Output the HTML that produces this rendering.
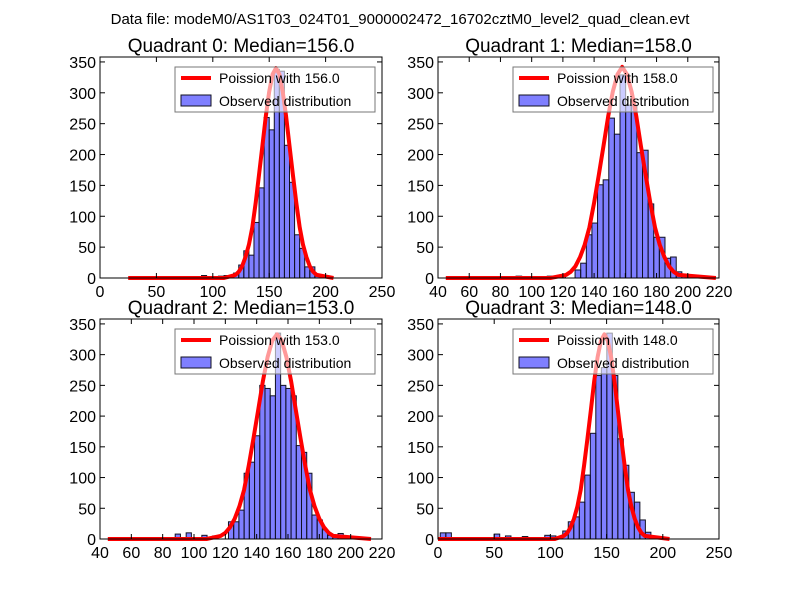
<!DOCTYPE html>
<html><head><meta charset="utf-8"><style>
body{margin:0;background:#fff}
svg text{font-family:"Liberation Sans","DejaVu Sans",sans-serif}
</style></head><body>
<svg id="fig" width="800" height="600" xmlns="http://www.w3.org/2000/svg">
<rect width="800" height="600" fill="#fff"/>
<text x="400" y="24" font-size="15" text-anchor="middle">Data file: modeM0/AS1T03_024T01_9000002472_16702cztM0_level2_quad_clean.evt</text>
</svg>
<script>
// Quadrant 0
const q0BinStart = 118.5, q0BinWidth = 4.5;
const q0Counts = [8,21,44,37,90,146,260,240,338,335,215,155,70,48,18,18,3];
const q0SmallX = [90,105,110];
const q0SmallY = [4,3,4];
const q0CurveX = [25,110,120,123,126,129,132,135,138,141,144,147,150,153,156,159,162,165,168,171,174,177,180,183,186,189,192,207];
const q0CurveY = [0,0,5,10,19,34,54,82,122,167,214,262,302,330,340,330,302,262,214,167,122,82,54,34,19,10,5,0];
// Quadrant 1
const q1BinStart = 127.8, q1BinWidth = 3.6;
const q1Counts = [13,24,70,89,151,159,259,233,329,280,280,203,207,120,66,66,32,34,10,5];
const q1SmallX = [90,110,118];
const q1SmallY = [3,3,5];
const q1CurveX = [45,112,122,125,128,131,134,137,140,143,146,149,152,155,158,161,164,167,170,173,176,179,182,185,188,191,194,218];
const q1CurveY = [0,0,5,10,19,34,54,82,122,167,214,262,302,330,342,330,302,262,214,167,122,82,54,34,19,10,5,0];
// Quadrant 2
const q2BinStart = 122, q2BinWidth = 3.33;
const q2Counts = [28,28,47,107,125,168,250,245,233,335,250,245,233,152,141,107,39,31,15,6,6,9];
const q2SmallX = [88,95,105,112];
const q2SmallY = [8,10,6,5];
const q2CurveX = [45,108,117,120,123,126,129,132,135,138,141,144,147,150,153,156,159,162,165,168,171,174,177,180,183,186,189,213];
const q2CurveY = [0,0,5,10,19,33,53,80,120,164,210,257,296,323,333,323,296,257,210,164,120,80,53,33,19,10,5,0];
// Quadrant 3
const q3BinStart = 111, q3BinWidth = 4.9;
const q3Counts = [13,28,36,60,104,172,266,279,335,266,163,120,76,60,31,11,3];
const q3SmallX = [2,7,50,60,75,95,100];
const q3SmallY = [10,10,8,5,4,6,5];
const q3CurveX = [0,104,112,115,118,121,124,127,130,133,136,139,142,145,148,151,154,157,160,163,166,169,172,175,178,181,184,206];
const q3CurveY = [0,0,5,10,19,33,53,80,120,164,210,257,296,323,333,323,296,257,210,164,120,80,53,33,19,10,5,0];

const yTicks = [0,50,100,150,200,250,300,350];
const quads = [
 {id:0,med:"156.0",L:100,R:382,T:57,B:278,xmin:0,xmax:250,xt:[0,50,100,150,200,250],bs:q0BinStart,bw:q0BinWidth,c:q0Counts,sx:q0SmallX,sy:q0SmallY,cx:q0CurveX,cy:q0CurveY},
 {id:1,med:"158.0",L:438,R:719,T:57,B:278,xmin:40,xmax:220,xt:[40,60,80,100,120,140,160,180,200,220],bs:q1BinStart,bw:q1BinWidth,c:q1Counts,sx:q1SmallX,sy:q1SmallY,cx:q1CurveX,cy:q1CurveY},
 {id:2,med:"153.0",L:100,R:382,T:319,B:539,xmin:40,xmax:220,xt:[40,60,80,100,120,140,160,180,200,220],bs:q2BinStart,bw:q2BinWidth,c:q2Counts,sx:q2SmallX,sy:q2SmallY,cx:q2CurveX,cy:q2CurveY},
 {id:3,med:"148.0",L:438,R:719,T:319,B:539,xmin:0,xmax:250,xt:[0,50,100,150,200,250],bs:q3BinStart,bw:q3BinWidth,c:q3Counts,sx:q3SmallX,sy:q3SmallY,cx:q3CurveX,cy:q3CurveY}
];
const NS="http://www.w3.org/2000/svg";
const svg=document.getElementById('fig');
function mk(tag,attrs,parent){const e=document.createElementNS(NS,tag);for(const k in attrs)e.setAttribute(k,attrs[k]);(parent||svg).appendChild(e);return e;}
const YMAX=358;
quads.forEach(q=>{
  const g=mk('g',{});
  
  
  const X=v=>q.L+(v-q.xmin)/(q.xmax-q.xmin)*(q.R-q.L);
  const Y=v=>q.B-v/YMAX*(q.B-q.T);
  const bw=X(q.bs+q.bw)-X(q.bs);
  q.c.forEach((v,i)=>{
    const r=mk('rect',{x:X(q.bs+i*q.bw),y:Y(v),width:bw,height:q.B-Y(v),fill:'rgba(0,0,255,0.5)',stroke:'#112','stroke-width':1},g);
    
    
  });
  q.sx.forEach((v,i)=>{
    const r=mk('rect',{x:X(v),y:Y(q.sy[i]),width:bw,height:q.B-Y(q.sy[i]),fill:'rgba(0,0,255,0.5)',stroke:'#112','stroke-width':1},g);
    
    
  });
  let d='';q.cx.forEach((v,i)=>{d+=(i?'L':'M')+X(v).toFixed(1)+','+Y(q.cy[i]).toFixed(1);});
  const p=mk('path',{d:d,fill:'none',stroke:'#f00','stroke-width':4,'stroke-linejoin':'round'},g);
  
  
  const lg=mk('g',{},g);
  
  
  const lx=q.L+75, ly=q.T+10;
  mk('rect',{x:lx,y:ly,width:200,height:45,fill:'rgba(255,255,255,0.6)',stroke:'#777','stroke-width':1},lg);
  mk('line',{x1:lx+6,x2:lx+36,y1:ly+11,y2:ly+11,stroke:'#f00','stroke-width':4},lg);
  const t1=mk('text',{x:lx+44,y:ly+16,'font-size':14},lg);t1.textContent='Poission with '+q.med;
  mk('rect',{x:lx+6,y:ly+28,width:30,height:11,fill:'rgba(0,0,255,0.5)',stroke:'#112','stroke-width':1},lg);
  const t2=mk('text',{x:lx+44,y:ly+39,'font-size':14},lg);t2.textContent='Observed distribution';
  const f=mk('rect',{x:q.L,y:q.T,width:q.R-q.L,height:q.B-q.T,fill:'none',stroke:'#000','stroke-width':1},g);
  
  
  q.xt.forEach(v=>{
    mk('line',{x1:X(v),x2:X(v),y1:q.B,y2:q.B-5,stroke:'#000'},g);
    mk('line',{x1:X(v),x2:X(v),y1:q.T,y2:q.T+5,stroke:'#000'},g);
    const t=mk('text',{x:X(v),y:q.B+19,'font-size':16,'text-anchor':'middle'},g);
    
    
    t.textContent=v;
  });
  yTicks.forEach(v=>{
    mk('line',{x1:q.L,x2:q.L+5,y1:Y(v),y2:Y(v),stroke:'#000'},g);
    mk('line',{x1:q.R,x2:q.R-5,y1:Y(v),y2:Y(v),stroke:'#000'},g);
    const t=mk('text',{x:q.L-4,y:Y(v)+6,'font-size':16,'text-anchor':'end'},g);
    
    
    t.textContent=v;
  });
  const tt=mk('text',{x:(q.L+q.R)/2,y:q.T-5,'font-size':19,'text-anchor':'middle'},g);
  
  
  tt.textContent='Quadrant '+q.id+': Median='+q.med;
});
</script>
</body></html>
